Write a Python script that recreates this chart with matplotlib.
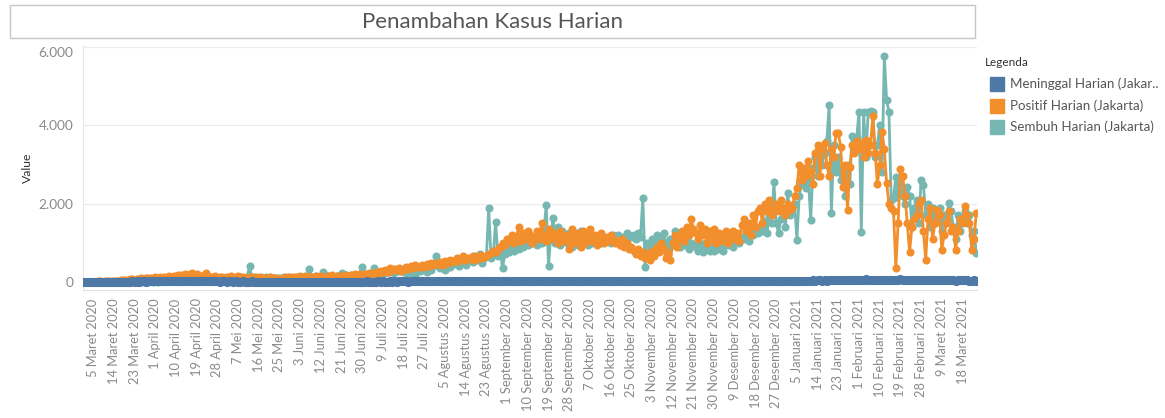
import datetime as dt
import numpy as np
import matplotlib
matplotlib.use("Agg")
import matplotlib.pyplot as plt
import matplotlib.dates as mdates
from matplotlib.patches import Rectangle

plt.rcParams['font.family'] = ['Lato', 'DejaVu Sans']

# daily values from 1 Maret 2020, one row per week
start_date = dt.date(2020, 3, 1)

positif = [
    0, 0, 2, 2, 5, 3, 8,
    10, 5, 13, 12, 20, 15, 24,
    30, 25, 40, 35, 50, 45, 60,
    70, 55, 80, 65, 90, 75, 85,
    90, 100, 80, 110, 95, 120, 105,
    130, 115, 150, 125, 160, 140, 170,
    180, 150, 210, 160, 190, 230, 170,
    200, 160, 140, 180, 220, 150, 130,
    120, 150, 100, 130, 110, 90, 120,
    110, 140, 90, 120, 160, 100, 130,
    100, 90, 130, 110, 80, 120, 100,
    110, 90, 100, 80, 120, 100, 90,
    80, 70, 100, 90, 110, 120, 100,
    130, 110, 100, 140, 120, 90, 150,
    110, 130, 100, 160, 120, 140, 100,
    130, 150, 120, 170, 110, 140, 160,
    150, 130, 170, 140, 180, 160, 190,
    170, 200, 150, 210, 180, 230, 190,
    220, 250, 200, 280, 240, 300, 260,
    350, 290, 330, 310, 360, 280, 340,
    380, 320, 400, 350, 420, 370, 390,
    430, 380, 460, 400, 490, 420, 470,
    450, 500, 430, 520, 480, 560, 510,
    540, 600, 520, 580, 650, 560, 620,
    590, 650, 570, 620, 680, 600, 640,
    660, 700, 740, 800, 760, 850, 900,
    1000, 950, 1100, 1050, 1200, 1000, 1150,
    1400, 1050, 1250, 1100, 1300, 1200, 1000,
    1150, 1300, 1100, 1500, 1200, 1050, 1350,
    1100, 1250, 1200, 1000, 1300, 1150, 1050,
    1200, 850, 1350, 1000, 1250, 1100, 900,
    1300, 1000, 1150, 1350, 1050, 1200, 950,
    1100, 1250, 1000, 1150, 1050, 1200, 1100,
    1000, 1050, 950, 1100, 900, 1000, 850,
    900, 800, 700, 850, 650, 750, 600,
    700, 550, 800, 650, 900, 750, 1000,
    850, 600, 700, 550, 1000, 1200, 900,
    1100, 1300, 1050, 1400, 1200, 1600, 1350,
    1250, 1100, 1450, 1200, 1350, 1000, 1300,
    1100, 1350, 1000, 1250, 1050, 1200, 1300,
    1000, 1150, 1300, 1100, 1250, 1050, 1450,
    1600, 1300, 1500, 1200, 1700, 1400, 1800,
    1900, 1500, 2000, 1800, 2100, 1700, 1900,
    2000, 1800, 2100, 1900, 1700, 2000, 1850,
    1900, 2200, 2400, 3000, 2600, 2900, 2700,
    3100, 2800, 2500, 3300, 3500, 2700, 3400,
    3560, 3000, 2700, 3400, 3200, 3810, 3810,
    3460, 2430, 3000, 1840, 2950, 3500, 3300,
    3600, 3400, 3550, 3200, 3640, 3300, 3500,
    4250, 3300, 2500, 3000, 3840, 3400, 2530,
    2000, 1900, 1800, 360, 1500, 2890, 2700,
    2200, 1500, 770, 1400, 1600, 1700, 2000,
    2100, 1300, 560, 1600, 1900, 1100, 1500,
    1840, 1700, 820, 1200, 1500, 1800, 1300,
    1400, 820, 1300, 1600, 1500, 1950, 1700,
    1500, 820, 1100, 1770,
]

sembuh = [
    0, 0, 0, 0, 0, 0, 0,
    0, 0, 0, 0, 0, 2, 0,
    0, 1, 0, 2, 0, 3, 1,
    2, 0, 5, 3, 1, 6, 4,
    5, 8, 3, 10, 6, 12, 9,
    15, 10, 20, 12, 25, 18, 22,
    30, 20, 40, 25, 35, 45, 30,
    50, 35, 60, 40, 70, 55, 45,
    60, 80, 50, 90, 70, 100, 75,
    80, 110, 70, 100, 85, 120, 90,
    90, 120, 410, 100, 130, 80, 110,
    100, 90, 120, 80, 110, 95, 85,
    90, 100, 80, 120, 95, 110, 90,
    100, 110, 90, 130, 120, 150, 100,
    330, 120, 100, 140, 110, 90, 250,
    130, 150, 110, 160, 120, 140, 110,
    230, 140, 170, 120, 180, 150, 160,
    170, 190, 380, 180, 200, 160, 210,
    350, 200, 240, 180, 260, 220, 280,
    250, 300, 220, 340, 270, 310, 260,
    300, 200, 350, 250, 180, 320, 270,
    300, 350, 250, 400, 300, 450, 650,
    400, 350, 500, 300, 450, 380, 520,
    450, 550, 400, 600, 500, 420, 560,
    600, 500, 650, 550, 700, 480, 620,
    650, 1890, 600, 700, 1540, 650, 800,
    360, 700, 850, 750, 900, 800, 950,
    850, 1000, 900, 1100, 950, 1050, 1000,
    1100, 950, 1200, 1000, 1300, 1970, 410,
    1200, 1640, 1000, 1400, 950, 1300, 1100,
    1000, 1250, 900, 1200, 1100, 950, 1300,
    1050, 1200, 950, 1100, 1000, 1150, 1050,
    1100, 1000, 1150, 1050, 1100, 1000, 1200,
    1100, 1200, 1050, 1150, 1100, 1250, 1200,
    1150, 1200, 1100, 1250, 1150, 2150, 390,
    1000, 900, 1100, 850, 1200, 950, 1050,
    1250, 1000, 900, 1100, 950, 1300, 1000,
    900, 1050, 950, 1100, 850, 1000, 950,
    900, 800, 950, 750, 1000, 850, 780,
    900, 800, 1000, 850, 950, 780, 1050,
    950, 1100, 900, 1050, 1200, 1000, 1150,
    1100, 1300, 1050, 1400, 1200, 1350, 1250,
    1400, 1300, 1550, 1250, 1700, 1500, 2560,
    1500, 1250, 1600, 1800, 1400, 2280, 1700,
    1900, 2000, 1080, 2200, 2500, 2800, 2400,
    2600, 1590, 2900, 3200, 2700, 3400, 3000,
    3300, 3600, 4530, 1770, 3500, 2800, 3200,
    2600, 2900, 2200, 3000, 2500, 3720, 3400,
    3700, 4350, 1280, 4350, 3200, 4350, 4380,
    4350, 3200, 3500, 4020, 2800, 5790, 4660,
    4350, 2100, 2150, 2690, 2300, 2500, 2200,
    2000, 2430, 2200, 1410, 1900, 2100, 1500,
    2610, 2480, 1700, 2000, 1400, 1900, 1500,
    1600, 1900, 1300, 1700, 1500, 2020, 1800,
    1400, 1100, 1700, 1300, 1600, 1800, 1500,
    1700, 1200, 1300, 740,
]

meninggal = [
    0, 0, 0, 0, 0, 0, 1,
    0, 1, 0, 2, 1, 3, 2,
    2, 4, 3, 5, 2, 6, 4,
    8, 5, 10, 6, 12, 9, 7,
    10, 12, 8, 14, 9, 15, 11,
    18, 12, 20, 15, 22, 17, 14,
    16, 20, 12, 18, 15, 13, 17,
    12, 10, 14, 9, 11, 8, 13,
    10, 8, 12, 7, 9, 11, 6,
    8, 10, 6, 9, 7, 5, 8,
    6, 7, 5, 8, 4, 6, 7,
    5, 6, 4, 7, 3, 5, 6,
    4, 6, 3, 5, 7, 4, 5,
    5, 4, 6, 3, 5, 7, 4,
    6, 5, 3, 7, 4, 6, 5,
    5, 7, 4, 6, 5, 3, 6,
    4, 6, 5, 7, 3, 5, 6,
    6, 4, 7, 5, 8, 6, 5,
    7, 5, 8, 6, 9, 7, 6,
    8, 6, 9, 7, 10, 8, 9,
    9, 7, 11, 8, 10, 12, 9,
    10, 8, 12, 9, 11, 13, 10,
    12, 9, 14, 11, 13, 10, 15,
    14, 11, 16, 12, 15, 13, 17,
    15, 12, 18, 14, 16, 19, 13,
    17, 14, 20, 16, 18, 21, 15,
    19, 16, 22, 18, 20, 24, 17,
    22, 18, 25, 20, 23, 27, 19,
    24, 20, 27, 22, 26, 21, 25,
    23, 19, 26, 21, 24, 28, 20,
    22, 18, 25, 20, 23, 19, 21,
    20, 17, 23, 19, 22, 18, 21,
    19, 16, 22, 18, 20, 17, 21,
    18, 15, 20, 17, 19, 16, 18,
    17, 14, 19, 16, 18, 15, 17,
    16, 13, 18, 15, 17, 14, 16,
    15, 12, 17, 14, 16, 13, 15,
    14, 12, 16, 13, 15, 17, 14,
    15, 13, 17, 14, 16, 18, 15,
    16, 14, 18, 15, 17, 19, 16,
    18, 15, 20, 17, 19, 22, 18,
    20, 17, 22, 19, 21, 24, 20,
    22, 19, 25, 21, 24, 27, 23,
    25, 21, 28, 24, 27, 30, 26,
    28, 24, 31, 27, 30, 33, 29,
    32, 28, 35, 30, 34, 38, 33,
    36, 31, 40, 35, 39, 43, 37,
    40, 35, 44, 38, 43, 48, 41,
    45, 39, 50, 43, 80, 47, 52,
    50, 44, 55, 48, 53, 58, 51,
    52, 46, 57, 49, 55, 60, 50,
    48, 42, 53, 46, 51, 56, 49,
    45, 39, 50, 43, 48, 52, 46,
    40, 35, 45, 38, 43, 47, 41,
    36, 31, 40, 34, 38, 42, 37,
    33, 29, 36, 31,
]

series_names = ["Meninggal Harian (Jakar..", "Positif Harian (Jakarta)", "Sembuh Harian (Jakarta)"]
colors = ["#4e79a7", "#f28e2b", "#76b7b2"]

bulan = ["Januari", "Februari", "Maret", "April", "Mei", "Juni", "Juli",
         "Agustus", "September", "Oktober", "November", "Desember"]

dates = [start_date + dt.timedelta(days=i) for i in range(len(positif))]
x = mdates.date2num(dates)

fig = plt.figure(figsize=(11.65, 4.18), dpi=100)
ax = fig.add_axes([83 / 1165, 1 - 290 / 418, 894 / 1165, 245 / 418])

line_kw = dict(marker='o', markersize=4.8, linewidth=2.0, solid_joinstyle='round')
ax.plot(x, sembuh, color=colors[2], zorder=3, **line_kw)
ax.plot(x, positif, color=colors[1], zorder=4, **line_kw)
ax.plot(x, meninggal, color=colors[0], zorder=5, marker='o', markersize=5.6,
        linewidth=3.0)

ax.set_ylim(-210, 6060)
ax.set_xlim(x[0] - 0.4, x[-1] + 0.3)
ax.set_yticks([0, 2000, 4000, 6000])
ax.set_yticklabels(["0", "2.000", "4.000", "6.000"])
ax.grid(axis='y', color='#ececec', linewidth=0.9)
ax.set_axisbelow(True)

tick_dates = []
d = dt.date(2020, 3, 5)
while d <= dt.date(2021, 3, 24):
    tick_dates.append(d)
    d += dt.timedelta(days=9)
ax.set_xticks(mdates.date2num(tick_dates))
ax.set_xticklabels([f"{t.day} {bulan[t.month - 1]} {t.year}" for t in tick_dates],
                   rotation=90, fontsize=9.3, color='#8a8a8a')
ax.tick_params(axis='x', length=0, pad=6)
ax.tick_params(axis='y', length=0, pad=7, labelsize=9.8, labelcolor='#8a8a8a')
# top label sits a little lower, as in the dashboard
ax.get_yticklabels()[-1].set_va('top')

for s in ['top', 'right']:
    ax.spines[s].set_visible(False)
ax.spines['left'].set_color('#e8e8e8')
ax.spines['bottom'].set_color('#e0e0e0')
ax.spines['bottom'].set_linestyle((0, (1, 1)))
ax.set_ylabel("Value", fontsize=8.8, color='#333333')
ax.yaxis.set_label_coords(-0.056, 0.5)

# title box
fig.add_artist(Rectangle((10 / 1165, 1 - 38 / 418), 965 / 1165, 33 / 418,
                         transform=fig.transFigure, fill=False,
                         edgecolor='#c6c6c6', linewidth=1))
fig.text(493 / 1165, 1 - 22 / 418, "Penambahan Kasus Harian", ha='center', va='center',
         fontsize=16, color='#555555')

# legend
fig.text(985 / 1165, 1 - 62 / 418, "Legenda", fontsize=8.5, color='#333333', va='center')
for i, (name, c) in enumerate(zip(series_names, colors)):
    yc = 1 - (84 + i * 21.5) / 418
    fig.add_artist(Rectangle((990 / 1165, yc - 7 / 418), 14 / 1165, 14 / 418,
                             transform=fig.transFigure, color=c))
    fig.text(1010 / 1165, yc, name, fontsize=9.6, color='#555555', va='center')

fig.savefig("out.png", dpi=100)
